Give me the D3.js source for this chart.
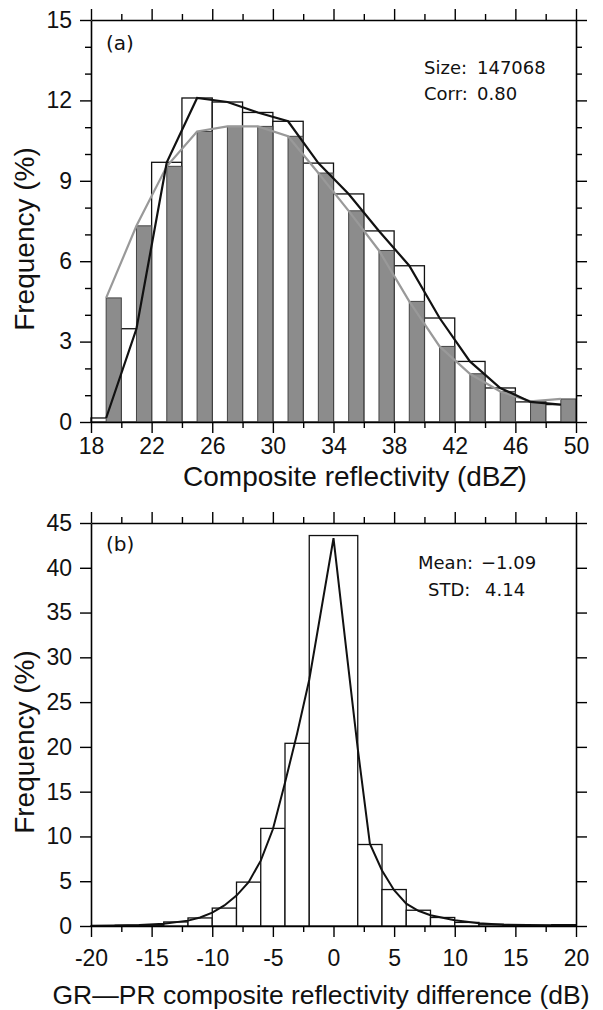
<!DOCTYPE html>
<html>
<head>
<meta charset="utf-8">
<script src="https://cdn.jsdelivr.net/npm/d3@7"></script>
<style>
  body { margin: 0; background: #fff; }
  text { font-family: Arial, "Liberation Sans", sans-serif; fill: #111; }
  .note { font-family: "DejaVu Sans", sans-serif; font-size: 18px; }
</style>
</head>
<body>
<div id="chart"></div>
<script>
// ---- panel (a): composite reflectivity histogram, 2-dB bins ----
const reflBinStart = [18, 20, 22, 24, 26, 28, 30, 32, 34, 36, 38, 40, 42, 44, 46, 48];
const reflOpen = [0.15, 3.48, 9.69, 12.09, 11.94, 11.55, 11.22, 9.66, 8.51, 7.13, 5.83, 3.88, 2.26, 1.27, 0.75, 0.65];
const reflGray = [4.63, 7.32, 9.54, 10.84, 11.03, 11.03, 10.66, 9.29, 7.88, 6.40, 4.50, 2.82, 1.80, 1.14, 0.77, 0.86];
const reflTicks = [18, 22, 26, 30, 34, 38, 42, 46, 50];
const reflMinor = [20, 24, 28, 32, 36, 40, 44, 48];
const freqTicksA = [0, 3, 6, 9, 12, 15];
const freqMinorA = [1, 2, 4, 5, 7, 8, 10, 11, 13, 14];

// ---- panel (b): GR-PR difference histogram ----
const diffEdges = [-20, -18, -16, -14, -12, -10, -8, -6, -4, -2, 2, 4, 6, 8, 10, 12, 14, 16, 18, 20];
const diffFreq = [0.03, 0.08, 0.15, 0.45, 0.9, 2.0, 4.9, 10.9, 20.4, 43.6, 9.1, 4.07, 1.76, 0.95, 0.4, 0.2, 0.1, 0.06, 0.15];
const diffCurveX = [-20, -18, -16, -14, -12, -11, -10, -9, -8, -7, -6, -5, -4, -3, -2, 0, 1, 2, 3, 4, 5, 6, 7, 8, 10, 12, 14, 16, 18, 20];
const diffCurveY = [0.02, 0.05, 0.1, 0.25, 0.6, 0.95, 1.5, 2.3, 3.4, 4.9, 7.3, 10.8, 16.0, 21.5, 27.5, 43.3, 31.5, 19.8, 9.2, 6.2, 4.0, 2.5, 1.7, 1.2, 0.64, 0.3, 0.15, 0.1, 0.07, 0.05];
const diffTicks = [-20, -15, -10, -5, 0, 5, 10, 15, 20];
const diffMinor = [-17.5, -12.5, -7.5, -2.5, 2.5, 7.5, 12.5, 17.5];
const freqTicksB = [0, 5, 10, 15, 20, 25, 30, 35, 40, 45];

const W = 603, H = 1010;
const left = 91, right = 576;

const svg = d3.select('#chart').append('svg')
  .attr('width', W)
  .attr('height', H);

// draw the four sided box with outward ticks
function drawFrame(x, y, xMajor, xMinor, yMajor, yMinor, xPad) {
  const [y0, y1] = y.range();
  const fmt = d => String(d);

  const axes = [
    { a: d3.axisBottom(x), t: `translate(0,${y0})`, maj: xMajor, min: xMinor, lab: true, pad: xPad },
    { a: d3.axisTop(x), t: `translate(0,${y1})`, maj: xMajor, min: xMinor, lab: false, pad: 3 },
    { a: d3.axisLeft(y), t: `translate(${left},0)`, maj: yMajor, min: yMinor, lab: true, pad: 8 },
    { a: d3.axisRight(y), t: `translate(${right},0)`, maj: yMajor, min: yMinor, lab: false, pad: 3 }
  ];
  axes.forEach(ax => {
    const g = svg.append('g').attr('transform', ax.t);
    g.call(ax.a.tickValues(ax.maj).tickSize(11).tickSizeOuter(0)
      .tickPadding(ax.pad)
      .tickFormat(ax.lab ? fmt : ''));
    g.selectAll('text').style('font-size', '23px');
    g.select('.domain').attr('stroke-width', 1.6);
    g.selectAll('.tick line').attr('stroke-width', 1.4);
    if (ax.min.length) {
      const m = svg.append('g').attr('transform', ax.t);
      m.call(ax.a.tickValues(ax.min).tickSize(6).tickFormat(''));
      m.select('.domain').remove();
      m.selectAll('.tick line').attr('stroke-width', 1.4);
    }
  });
}

// ================= panel (a) =================
const xA = d3.scaleLinear().domain([18, 50]).range([left, right]);
const yA = d3.scaleLinear().domain([0, 15]).range([422, 20]);

svg.append('g').selectAll('rect')
  .data(reflBinStart)
  .enter().append('rect')
  .attr('x', (d) => xA(d))
  .attr('y', (d, i) => yA(reflOpen[i]))
  .attr('width', xA(20) - xA(18))
  .attr('height', (d, i) => yA(0) - yA(reflOpen[i]))
  .attr('fill', '#fff')
  .attr('stroke', '#111')
  .attr('stroke-width', 1.3);

svg.append('g').selectAll('rect')
  .data(reflBinStart)
  .enter().append('rect')
  .attr('x', (d) => xA(d + 1))
  .attr('y', (d, i) => yA(reflGray[i]))
  .attr('width', xA(19) - xA(18))
  .attr('height', (d, i) => yA(0) - yA(reflGray[i]))
  .attr('fill', '#8c8c8c')
  .attr('stroke', '#444')
  .attr('stroke-width', 1);

const lineA = d3.line().x(d => xA(d[0])).y(d => yA(d[1]));
svg.append('path')
  .datum(reflBinStart.map((d, i) => [d + 1, reflGray[i]]))
  .attr('d', lineA)
  .attr('fill', 'none')
  .attr('stroke', '#999')
  .attr('stroke-width', 2.2);
svg.append('path')
  .datum(reflBinStart.map((d, i) => [d + 1, reflOpen[i]]))
  .attr('d', lineA)
  .attr('fill', 'none')
  .attr('stroke', '#111')
  .attr('stroke-width', 2.2);

drawFrame(xA, yA, reflTicks, reflMinor, freqTicksA, freqMinorA, 5);

svg.append('text').attr('x', 106).attr('y', 50).style('font-size', '20px')
  .attr('class', 'note').text('(a)');
svg.append('text').attr('class', 'note').attr('x', 424).attr('y', 74).text('Size:');
svg.append('text').attr('class', 'note').attr('x', 477).attr('y', 74).text('147068');
svg.append('text').attr('class', 'note').attr('x', 424).attr('y', 100).text('Corr:');
svg.append('text').attr('class', 'note').attr('x', 477).attr('y', 100).text('0.80');

const titleA = svg.append('text')
  .attr('x', 355).attr('y', 486)
  .attr('text-anchor', 'middle')
  .style('font-size', '28px')
  .text('Composite reflectivity (dB');
titleA.append('tspan').style('font-style', 'italic').text('Z');
titleA.append('tspan').text(')');

svg.append('text')
  .attr('transform', 'translate(34,239) rotate(-90)')
  .attr('text-anchor', 'middle')
  .style('font-size', '28px')
  .text('Frequency (%)');

// ================= panel (b) =================
const xB = d3.scaleLinear().domain([-20, 20]).range([left, right]);
const yB = d3.scaleLinear().domain([0, 45]).range([926, 523]);

svg.append('g').selectAll('rect')
  .data(diffFreq)
  .enter().append('rect')
  .attr('x', (d, i) => xB(diffEdges[i]))
  .attr('y', d => yB(d))
  .attr('width', (d, i) => xB(diffEdges[i + 1]) - xB(diffEdges[i]))
  .attr('height', d => yB(0) - yB(d))
  .attr('fill', '#fff')
  .attr('stroke', '#111')
  .attr('stroke-width', 1.3);

svg.append('path')
  .datum(diffCurveX.map((d, i) => [d, diffCurveY[i]]))
  .attr('d', d3.line().x(d => xB(d[0])).y(d => yB(d[1])))
  .attr('fill', 'none')
  .attr('stroke', '#111')
  .attr('stroke-width', 2);

drawFrame(xB, yB, diffTicks, diffMinor, freqTicksB, [], 13);

svg.append('text').attr('x', 106).attr('y', 551).style('font-size', '20px')
  .attr('class', 'note').text('(b)');
svg.append('text').attr('class', 'note').attr('x', 418).attr('y', 569).text('Mean:');
svg.append('text').attr('class', 'note').attr('x', 481).attr('y', 569).text('\u22121.09');
svg.append('text').attr('class', 'note').attr('x', 428).attr('y', 596).text('STD:');
svg.append('text').attr('class', 'note').attr('x', 485).attr('y', 596).text('4.14');

svg.append('text')
  .attr('x', 321).attr('y', 1004)
  .attr('text-anchor', 'middle')
  .style('font-size', '26.5px')
  .text('GR\u2014PR composite reflectivity difference (dB)');

svg.append('text')
  .attr('transform', 'translate(34,742) rotate(-90)')
  .attr('text-anchor', 'middle')
  .style('font-size', '28px')
  .text('Frequency (%)');
</script>
</body>
</html>
